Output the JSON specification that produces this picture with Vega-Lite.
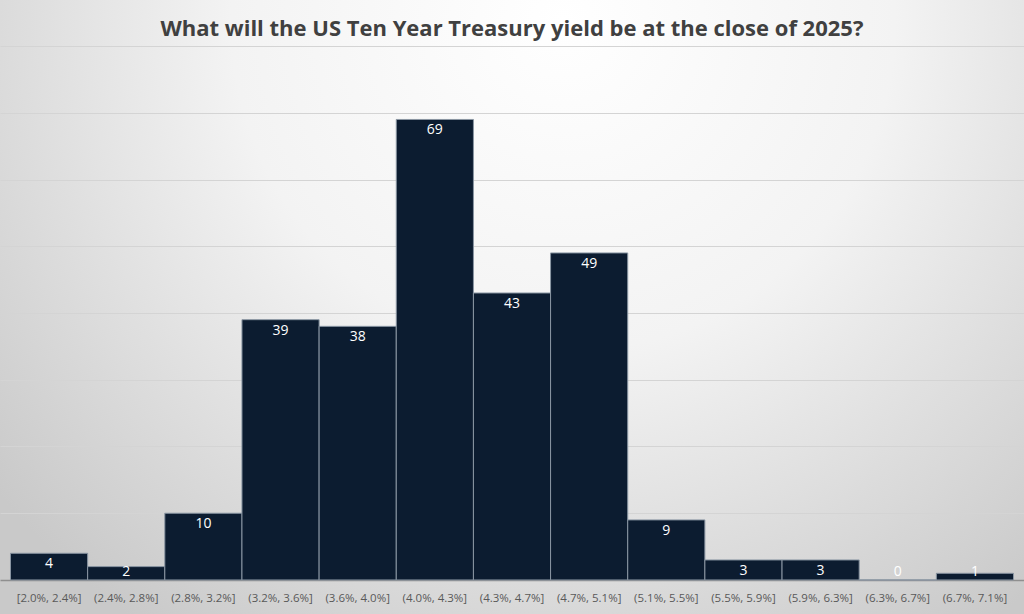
{
  "$schema": "https://vega.github.io/schema/vega-lite/v6.json",
  "width": 1024,
  "height": 614,
  "autosize": {"type": "none"},
  "padding": 0,
  "background": "#cfcfcf",
  "title": {
    "text": "What will the US Ten Year Treasury yield be at the close of 2025?",
    "anchor": "middle",
    "offset": -35,
    "dy": 23,
    "baseline": "alphabetic",
    "font": "Open Sans",
    "fontSize": 22,
    "fontWeight": "bold",
    "color": "#404040"
  },
  "config": {
    "view": {
      "stroke": null,
      "fill": {
        "gradient": "radial",
        "x1": 0.55, "y1": 0.22, "r1": 0,
        "x2": 0.55, "y2": 0.22, "r2": 0.72,
        "stops": [
          {"offset": 0, "color": "#ffffff"},
          {"offset": 0.45, "color": "#f3f3f3"},
          {"offset": 1, "color": "#c9c9c9"}
        ]
      }
    }
  },
  "data": {
    "values": [
      {"bin": "[2.0%, 2.4%]", "count": 4},
      {"bin": "(2.4%, 2.8%]", "count": 2},
      {"bin": "(2.8%, 3.2%]", "count": 10},
      {"bin": "(3.2%, 3.6%]", "count": 39},
      {"bin": "(3.6%, 4.0%]", "count": 38},
      {"bin": "(4.0%, 4.3%]", "count": 69},
      {"bin": "(4.3%, 4.7%]", "count": 43},
      {"bin": "(4.7%, 5.1%]", "count": 49},
      {"bin": "(5.1%, 5.5%]", "count": 9},
      {"bin": "(5.5%, 5.9%]", "count": 3},
      {"bin": "(5.9%, 6.3%]", "count": 3},
      {"bin": "(6.3%, 6.7%]", "count": 0},
      {"bin": "(6.7%, 7.1%]", "count": 1}
    ]
  },
  "encoding": {
    "x": {
      "field": "bin",
      "type": "nominal",
      "sort": null,
      "scale": {"paddingInner": 0, "paddingOuter": 0.136},
      "axis": {
        "title": null,
        "labelAngle": 0,
        "offset": -34,
        "labelPadding": 12,
        "ticks": false,
        "domainColor": "#8f8f8f",
        "domainWidth": 1.5,
        "labelFont": "Open Sans",
        "labelFontSize": 11.5,
        "labelColor": "#595959",
        "grid": false
      }
    },
    "y": {
      "field": "count",
      "type": "quantitative",
      "scale": {"domain": [-5.1, 86.9], "nice": false, "zero": false},
      "axis": {
        "title": null,
        "labels": false,
        "ticks": false,
        "domain": false,
        "values": [10, 20, 30, 40, 50, 60, 70, 80],
        "grid": true,
        "gridColor": "#d4d4d4",
        "gridWidth": 1.2
      }
    }
  },
  "layer": [
    {
      "mark": {"type": "bar", "color": "#0c1c30", "stroke": "#8a96a3", "strokeWidth": 1},
      "encoding": {"y2": {"datum": 0}}
    },
    {
      "transform": [{"calculate": "max(datum.count, 2.85)", "as": "labelY"}],
      "mark": {"type": "text", "baseline": "middle", "dy": 11, "color": "#ffffff", "font": "Open Sans", "fontSize": 14},
      "encoding": {
        "y": {"field": "labelY", "type": "quantitative"},
        "text": {"field": "count", "type": "quantitative"}
      }
    }
  ]
}
